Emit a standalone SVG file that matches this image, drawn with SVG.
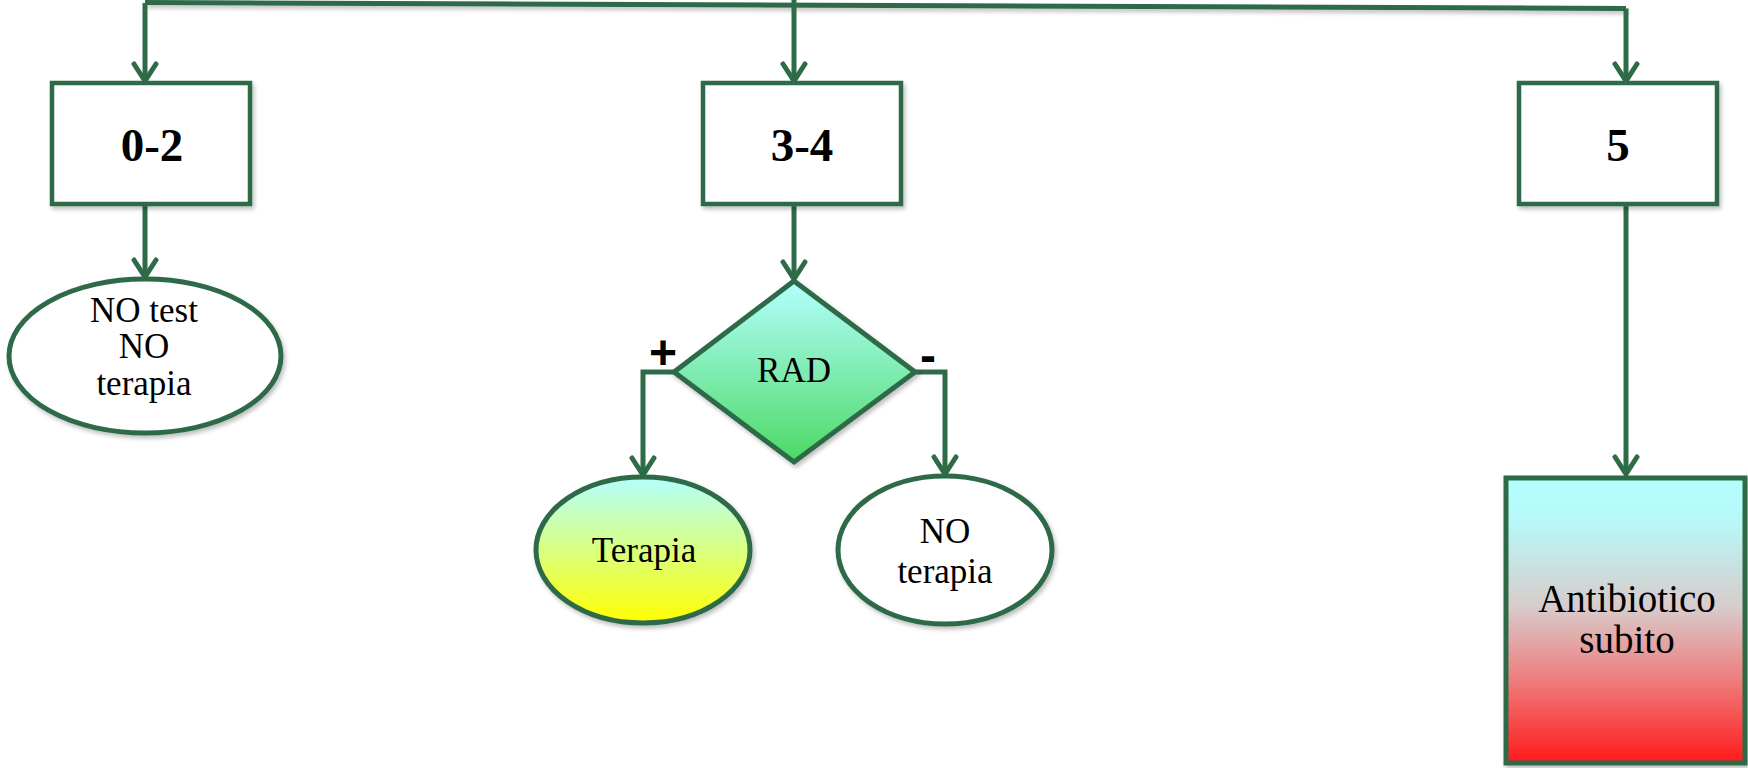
<svg xmlns="http://www.w3.org/2000/svg" width="1748" height="768" viewBox="0 0 1748 768">
<defs>
<style>
.ln{fill:none;stroke:#2e6b47;stroke-width:5;stroke-linejoin:miter}
.box{fill:#ffffff;stroke:#2e6b47;stroke-width:4.5}
.shape{stroke:#2e6b47;stroke-width:5}
.t{font-family:"Liberation Serif","Times New Roman",serif;fill:#000;text-anchor:middle}
.big{font-size:47px;font-weight:bold}
.mid{font-size:35px}
.sgn{font-family:"Liberation Sans",Arial,sans-serif;font-weight:bold;font-size:48px;text-anchor:middle;fill:#000}
</style>
<marker id="arr" markerUnits="userSpaceOnUse" viewBox="-22 -15 26 30" refX="0" refY="0" markerWidth="26" markerHeight="30" orient="auto">
<path d="M-17,-11 L0,0 L-17,11" fill="none" stroke="#2e6b47" stroke-width="5" stroke-linecap="round" stroke-linejoin="miter"/>
</marker>
<linearGradient id="gDia" x1="0" y1="0" x2="0" y2="1">
<stop offset="0" stop-color="#b3ffff"/><stop offset="1" stop-color="#4cd964"/>
</linearGradient>
<linearGradient id="gTer" x1="0" y1="0" x2="0" y2="1">
<stop offset="0" stop-color="#b3ffff"/><stop offset="1" stop-color="#ffff00"/>
</linearGradient>
<linearGradient id="gAnt" x1="0" y1="0" x2="0" y2="1">
<stop offset="0" stop-color="#b3ffff"/><stop offset="0.15" stop-color="#b8f8f8"/><stop offset="0.45" stop-color="#d8cccc"/><stop offset="0.7" stop-color="#ee8080"/><stop offset="1" stop-color="#ff1a1a"/>
</linearGradient>
<filter id="sh" filterUnits="userSpaceOnUse" x="-20" y="-20" width="1800" height="820">
<feDropShadow dx="2" dy="3" stdDeviation="2" flood-color="#000" flood-opacity="0.25"/>
</filter>
</defs>

<g id="connectors">
<path class="ln" d="M145,2.5 L1626,8.5" filter="url(#sh)"/>
<path class="ln" d="M145,3 L145,81" marker-end="url(#arr)"/>
<path class="ln" d="M794,0 L794,81" marker-end="url(#arr)"/>
<path class="ln" d="M1626,8.5 L1626,81" marker-end="url(#arr)"/>
<path class="ln" d="M145,205 L145,277" marker-end="url(#arr)"/>
<path class="ln" d="M794,205 L794,279" marker-end="url(#arr)"/>
<path class="ln" d="M674,372 L643,372 L643,475" marker-end="url(#arr)"/>
<path class="ln" d="M915,372 L945,372 L945,474" marker-end="url(#arr)"/>
<path class="ln" d="M1626,205 L1626,474" marker-end="url(#arr)"/>
</g>

<g id="box-0-2">
<rect class="box" x="52" y="83" width="198" height="121" filter="url(#sh)"/>
<text class="t big" x="152" y="161">0-2</text>
</g>

<g id="box-3-4">
<rect class="box" x="703" y="83" width="198" height="121" filter="url(#sh)"/>
<text class="t big" x="802" y="161">3-4</text>
</g>

<g id="box-5">
<rect class="box" x="1519" y="83" width="198" height="121" filter="url(#sh)"/>
<text class="t big" x="1618" y="161">5</text>
</g>

<g id="no-test">
<ellipse class="shape" cx="145" cy="356" rx="136" ry="77" fill="#ffffff" filter="url(#sh)"/>
<text class="t mid" x="144" y="322">NO test</text>
<text class="t mid" x="144" y="358">NO</text>
<text class="t mid" x="144" y="395">terapia</text>
</g>

<g id="rad">
<polygon class="shape" points="794,281 915,372 794,462 674,372" fill="url(#gDia)" filter="url(#sh)"/>
<text class="t mid" x="794" y="382">RAD</text>
<text class="sgn" x="663" y="369">+</text>
<text class="sgn" x="928" y="372">-</text>
</g>

<g id="terapia">
<ellipse class="shape" cx="643" cy="550" rx="107" ry="73" fill="url(#gTer)" filter="url(#sh)"/>
<text class="t mid" x="644" y="562">Terapia</text>
</g>

<g id="no-terapia">
<ellipse class="shape" cx="945" cy="550" rx="107" ry="74" fill="#ffffff" filter="url(#sh)"/>
<text class="t mid" x="945" y="543">NO</text>
<text class="t mid" x="945" y="583">terapia</text>
</g>

<g id="antibiotico">
<rect class="shape" x="1506" y="478" width="239" height="285" fill="url(#gAnt)" filter="url(#sh)"/>
<text class="t" style="font-size:39px" x="1627" y="612">Antibiotico</text>
<text class="t" style="font-size:39px" x="1627" y="653">subito</text>
</g>
</svg>
